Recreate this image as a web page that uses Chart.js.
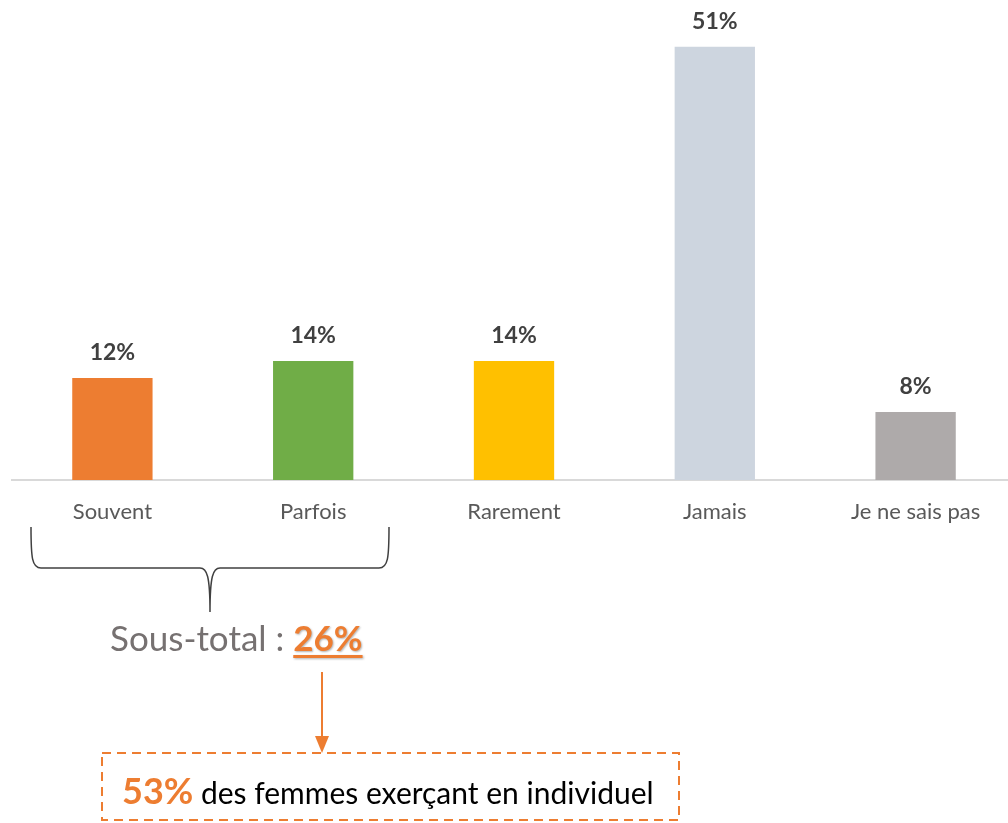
<!DOCTYPE html>
<html>
<head>
<meta charset="utf-8">
<script src="https://cdn.jsdelivr.net/npm/chart.js@4.4.0/dist/chart.umd.min.js"></script>
<style>
  html, body { margin: 0; padding: 0; background: #fff; overflow: hidden; }
  body { width: 1008px; height: 823px; position: relative; font-family: Lato, "Open Sans", sans-serif; }
  #wrap { position: absolute; left: 0; top: 0; width: 1016px; height: 540px; }
  .note { position: absolute; white-space: nowrap; }
  #soustotal { left: 110px; top: 620px; font-size: 35px; color: #767171; line-height: 1; }
  #soustotal b { color: #ED7D31; text-decoration: underline; text-decoration-thickness: 3px; text-underline-offset: 4px; text-shadow: 1px 1px 2px rgba(0,0,0,0.3); }
  #boxtext { left: 122px; top: 772px; font-size: 30px; color: #000; line-height: 1; }
  #boxtext b { color: #ED7D31; font-size: 36px; }
</style>
</head>
<body>
<div id="wrap"><canvas id="myChart"></canvas></div>

<svg width="1008" height="823" style="position:absolute;left:0;top:0;pointer-events:none">
  <path d="M31,527 C31,558 32,568 41,568 L200,568 C207,568 210,576 210,612 C210,576 213,568 220,568 L379,568 C388,568 389,558 389,527"
        fill="none" stroke="#404040" stroke-width="1.5"/>
  <line x1="322" y1="672" x2="322" y2="738" stroke="#ED7D31" stroke-width="2"/>
  <polygon points="315,736 329,736 322,753" fill="#ED7D31"/>
  <rect x="102" y="753" width="577" height="67" fill="none" stroke="#ED7D31" stroke-width="2" stroke-dasharray="9,6"/>
</svg>

<div class="note" id="soustotal">Sous-total : <b>26%</b></div>
<div class="note" id="boxtext"><b>53%</b> des femmes exerçant en individuel</div>

<script>
var categories = ['Souvent', 'Parfois', 'Rarement', 'Jamais', 'Je ne sais pas'];
var values = [12, 14, 14, 51, 8];
var barColors = ['#ED7D31', '#70AD47', '#FFC000', '#CDD5DF', '#AEAAAA'];

var valueLabels = {
    id: 'valueLabels',
    afterDatasetsDraw: function (chart) {
        var ctx = chart.ctx;
        var meta = chart.getDatasetMeta(0);
        ctx.save();
        ctx.font = 'bold 23px Lato, "Open Sans", sans-serif';
        ctx.fillStyle = '#404040';
        ctx.textAlign = 'center';
        ctx.textBaseline = 'alphabetic';
        meta.data.forEach(function (bar, i) {
            ctx.fillText(values[i] + '%', bar.x, bar.y - 18);
        });
        ctx.restore();
    }
};

var ctx = document.getElementById('myChart').getContext('2d');
var myChart = new Chart(ctx, {
    type: 'bar',
    data: {
        labels: categories,
        datasets: [{
            data: values,
            backgroundColor: barColors,
            barPercentage: 0.4,
            categoryPercentage: 1
        }]
    },
    options: {
        responsive: true,
        maintainAspectRatio: false,
        animation: false,
        layout: { padding: { left: 12, right: 0, top: 0, bottom: 0 } },
        plugins: { legend: { display: false }, tooltip: { enabled: false } },
        scales: {
            x: {
                grid: { display: false, drawTicks: false },
                border: { color: '#D9D9D9', width: 2 },
                ticks: { color: '#595959', font: { family: 'Lato, "Open Sans", sans-serif', size: 22 }, padding: 19 },
                afterFit: function (scale) { scale.height = 60; }
            },
            y: { display: false, min: 0, max: 56.5 }
        }
    },
    plugins: [valueLabels]
});
</script>
</body>
</html>
